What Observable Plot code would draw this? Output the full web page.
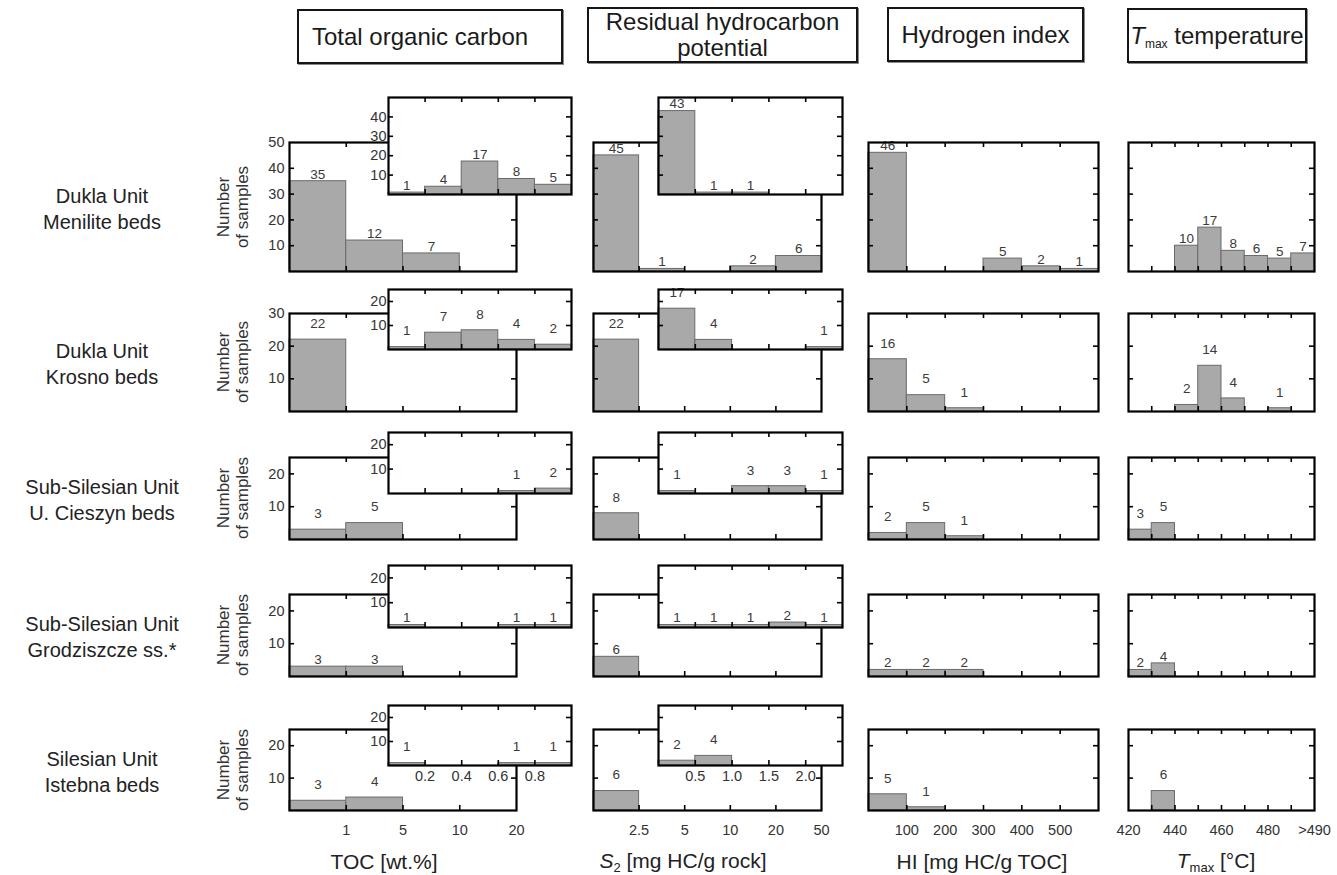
<!DOCTYPE html>
<html><head><meta charset="utf-8">
<script src="https://cdn.jsdelivr.net/npm/d3@7"></script>
<script src="https://cdn.jsdelivr.net/npm/@observablehq/plot@0.6"></script>
<style>
body{margin:0;background:#fff;font-family:"Liberation Sans",Arial,Helvetica,sans-serif;}
#chart{position:relative;width:1337px;height:875px;overflow:hidden;background:#fff;}
.hdr{position:absolute;box-sizing:border-box;border:2px solid #151515;box-shadow:1px 1px 0 #8a8a8a;display:flex;flex-direction:column;align-items:center;justify-content:center;font-size:24px;color:#1a1a1a;text-align:center;line-height:26px;}
.hdr span{display:block;white-space:nowrap;}
.hdr sub{font-size:12px;vertical-align:-4px;line-height:0;}
.rowlab{position:absolute;transform:translate(-50%,-50%);text-align:center;font-size:20px;line-height:26px;color:#222;white-space:nowrap;}
.ylab{position:absolute;transform:translate(-50%,-50%) rotate(-90deg);text-align:center;font-size:17px;line-height:19px;color:#333;white-space:nowrap;}
.xtitle{position:absolute;transform:translate(-50%,-50%);font-size:21px;color:#222;white-space:nowrap;}
.xtitle sub{font-size:13px;vertical-align:-4px;}
svg.panel{position:absolute;max-width:none;}
</style>
</head><body>
<div id="chart"></div>
<script>
// ---------- data ----------
const units = ["Dukla Unit","Dukla Unit","Sub-Silesian Unit","Sub-Silesian Unit","Silesian Unit"];
const formations = ["Menilite beds","Krosno beds","U. Cieszyn beds","Grodziszcze ss.*","Istebna beds"];
const headers = [["Total organic carbon"],["Residual hydrocarbon","potential"],["Hydrogen index"],["<i>T</i><sub>max</sub>&nbsp;temperature"]];
const axisTitles = ["TOC [wt.%]","<i>S</i><sub>2</sub> [mg HC/g rock]","HI [mg HC/g TOC]","<i>T</i><sub>max</sub> [°C]"];

const tocTicks = ["1","5","10","20"];
const tocInsetTicks = ["0.2","0.4","0.6","0.8"];
const s2Ticks = ["2.5","5","10","20","50"];
const s2InsetTicks = ["0.5","1.0","1.5","2.0"];
const hiTicks = ["100","200","300","400","500"];
const tmaxTicks = ["420","440","460","480",">490"];

const tocCounts      = [[35,12,7,0],[22,0,0,0],[3,5,0,0],[3,3,0,0],[3,4,0,0]];
const tocInsetCounts = [[1,4,17,8,5],[1,7,8,4,2],[0,0,0,1,2],[1,0,0,1,1],[1,0,0,1,1]];
const s2Counts       = [[45,1,0,2,6],[22,0,0,0,0],[8,0,0,0,0],[6,0,0,0,0],[6,0,0,0,0]];
const s2InsetCounts  = [[43,1,1,0,0],[17,4,0,0,1],[1,0,3,3,1],[1,1,1,2,1],[2,4,0,0,0]];
const hiCounts       = [[46,0,0,5,2,1],[16,5,1,0,0,0],[2,5,1,0,0,0],[2,2,2,0,0,0],[5,1,0,0,0,0]];
const tmaxCounts     = [[0,0,10,17,8,6,5,7],[0,0,2,14,4,0,1,0],[3,5,0,0,0,0,0,0],[2,4,0,0,0,0,0,0],[0,6,0,0,0,0,0,0]];

const mainYMax = [50,30,25,25,25];
const mainYTicks = [[10,20,30,40,50],[10,20,30],[10,20],[10,20],[10,20]];
const insetYMax = [50,25,25,25,25];
const insetYTicks = [[10,20,30,40],[10,20],[10,20],[10,20],[10,20]];

// ---------- layout ----------
const rowLayout = [
  {main:[142,271], inset:[97,194], gap:7},
  {main:[313,411], inset:[289,349], gap:16},
  {main:[457,539], inset:[432,493], gap:16},
  {main:[594,676], inset:[565,627], gap:7},
  {main:[729,810], inset:[705,765], gap:16}
];
const mainCols = [
  {x:[289,516], counts:tocCounts, ticks:tocTicks, pos:[1,2,3,4], ylabels:true},
  {x:[593,821], counts:s2Counts, ticks:s2Ticks, pos:[1,2,3,4,5]},
  {x:[868,1098], counts:hiCounts, ticks:hiTicks, pos:[1,2,3,4,5]},
  {x:[1128,1314], counts:tmaxCounts, ticks:tmaxTicks, pos:[0,2,4,6,8]}
];
const insetCols = [
  {x:[388,571], counts:tocInsetCounts, ticks:tocInsetTicks, pos:[1,2,3,4], ylabels:true},
  {x:[658,842], counts:s2InsetCounts, ticks:s2InsetTicks, pos:[1,2,3,4]}
];
const headerBoxes = [[297,9,266,55,"flex-start",13],[587,7,271,56,"center",0],[887,7,197,55,"center",0],[1127,8,180,55,"center",0]];
const axisTitleX = [384,683,982,1216];
const FONT = '"Liberation Sans", Arial, sans-serif';

const chart = document.getElementById("chart");
const M = 40;

function panel(o) {
  const w = o.x[1]-o.x[0], h = o.y[1]-o.y[0], n = o.counts.length;
  const data = o.counts.map((v,i)=>({i,v})).filter(d=>d.v>0);
  const inner = d3.range(1,n);
  const yt = o.yticks.filter(t=>t<o.ymax);
  const marks = [];
  if (o.bg) marks.push(Plot.frame({fill:"white", stroke:"none"}));
  marks.push(Plot.rect(data,{x1:"i", x2:d=>d.i+1, y1:0, y2:"v", fill:"#a9a9a9", stroke:"#6a6a6a", strokeWidth:1}));
  marks.push(Plot.text(data,{x:d=>d.i+0.5, y:"v", text:d=>String(d.v), dy:-o.gap, fontSize:13.5, fill:"#3a3a3a"}));
  marks.push(Plot.ruleX(inner,{insetBottom:h-5, stroke:"#000", strokeWidth:1.6}));
  marks.push(Plot.ruleX(inner,{insetTop:h-5, stroke:"#000", strokeWidth:1.6}));
  marks.push(Plot.ruleY(yt,{insetRight:w-5, stroke:"#000", strokeWidth:1.6}));
  marks.push(Plot.ruleY(yt,{insetLeft:w-5, stroke:"#000", strokeWidth:1.6}));
  marks.push(Plot.frame({stroke:"#000", strokeWidth:2.2}));
  if (o.ylabels) marks.push(Plot.axisY({ticks:o.yticks, label:null, tickSize:0, tickPadding:o.ypad, fontSize:14.5, fill:"#333", tickFormat:d=>String(d)}));
  if (o.xlabels) marks.push(Plot.axisX({ticks:o.pos, label:null, tickSize:0, tickPadding:o.xpad, fontSize:14.5, fill:"#333", tickFormat:(d,k)=>o.xlabels[k]}));
  const svg = Plot.plot({
    width:w+2*M, height:h+2*M,
    marginLeft:M, marginRight:M, marginTop:M, marginBottom:M,
    x:{domain:[0,n], axis:null, label:null},
    y:{domain:[0,o.ymax], axis:null, label:null},
    style:{background:"transparent", fontFamily:FONT, overflow:"visible"},
    marks
  });
  svg.classList.add("panel");
  svg.style.left = (o.x[0]-M)+"px";
  svg.style.top = (o.y[0]-M)+"px";
  chart.appendChild(svg);
}

// headers
headers.forEach((lines,k)=>{
  const d = document.createElement("div");
  d.className="hdr";
  const [l,tp,w,h,jc,pl] = headerBoxes[k];
  Object.assign(d.style,{left:l+"px",top:tp+"px",width:w+"px",height:h+"px",alignItems:jc,paddingLeft:pl+"px"});
  d.innerHTML = lines.map(t=>"<span>"+t+"</span>").join("");
  chart.appendChild(d);
});

for (let r=0;r<5;r++){
  const L = rowLayout[r];
  mainCols.forEach(c=>{
    panel({x:c.x, y:L.main, counts:c.counts[r], ymax:mainYMax[r], yticks:mainYTicks[r],
      ylabels:c.ylabels, ypad:5, gap:L.gap,
      xlabels: r===4 ? c.ticks : null, pos:c.pos, xpad:14, bg:false});
  });
  insetCols.forEach(c=>{
    panel({x:c.x, y:L.inset, counts:c.counts[r], ymax:insetYMax[r], yticks:insetYTicks[r],
      ylabels:c.ylabels, ypad:2, gap:L.gap,
      xlabels: r===4 ? c.ticks : null, pos:c.pos, xpad:5, bg:true});
  });
  const cy = (L.main[0]+L.main[1])/2;
  const lab = document.createElement("div");
  lab.className="rowlab";
  Object.assign(lab.style,{left:"102px",top:(cy+2)+"px"});
  lab.innerHTML = units[r]+"<br>"+formations[r];
  chart.appendChild(lab);
  const yl = document.createElement("div");
  yl.className="ylab";
  Object.assign(yl.style,{left:"233px",top:cy+"px"});
  yl.innerHTML = "Number<br>of samples";
  chart.appendChild(yl);
}

axisTitles.forEach((t,k)=>{
  const d = document.createElement("div");
  d.className="xtitle";
  Object.assign(d.style,{left:axisTitleX[k]+"px",top:"862px"});
  d.innerHTML = t;
  chart.appendChild(d);
});
</script>
</body></html>
